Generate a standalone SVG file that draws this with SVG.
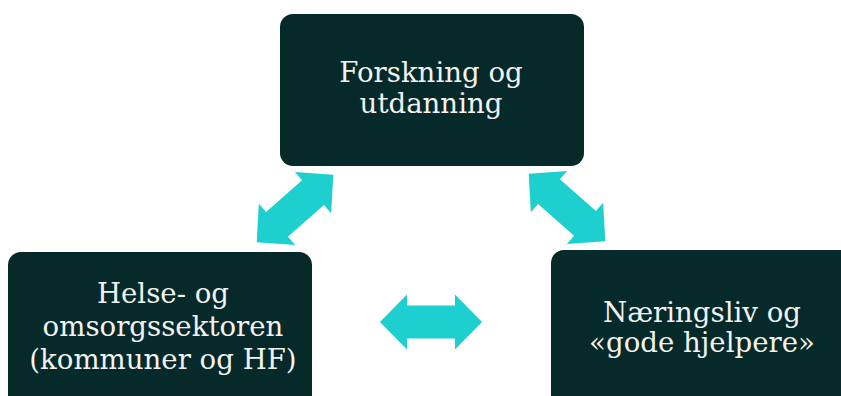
<svg xmlns="http://www.w3.org/2000/svg" xmlns:xlink="http://www.w3.org/1999/xlink" width="841" height="396" viewBox="0 0 841 396">
<style>
.box{fill:#06292A}
.lbl{font-family:"DejaVu Serif","Liberation Serif",serif;font-size:27.6px;fill:#F2F2F2;text-anchor:middle}
.arr{fill:#1ECFD0}
</style>
<defs>
<polygon id="dbl" class="arr" points="-51,0 -24,-27.5 -24,-16.5 24,-16.5 24,-27.5 51,0 24,27.5 24,16.5 -24,16.5 -24,27.5"/>
</defs>
<rect width="841" height="396" fill="#FFFFFF"/>
<g id="connectors">
<use xlink:href="#dbl" transform="translate(295,208.5) rotate(-41.4)"/>
<use xlink:href="#dbl" transform="translate(567,207.5) rotate(41.4)"/>
<use xlink:href="#dbl" transform="translate(431,322)"/>
</g>
<g id="node-forskning">
<rect class="box" x="280" y="14" width="304" height="152" rx="13"/>
<text class="lbl" x="431" y="82">Forskning og</text>
<text class="lbl" x="431" y="113">utdanning</text>
</g>
<g id="node-helse">
<rect class="box" x="8" y="252" width="304" height="160" rx="13"/>
<text class="lbl" x="163" y="303">Helse- og</text>
<text class="lbl" x="163" y="336">omsorgssektoren</text>
<text class="lbl" x="163" y="369">(kommuner og HF)</text>
</g>
<g id="node-naering">
<rect class="box" x="551" y="250" width="304" height="160" rx="13"/>
<text class="lbl" x="702" y="322">Næringsliv og</text>
<text class="lbl" x="702" y="352">«gode hjelpere»</text>
</g>
</svg>
